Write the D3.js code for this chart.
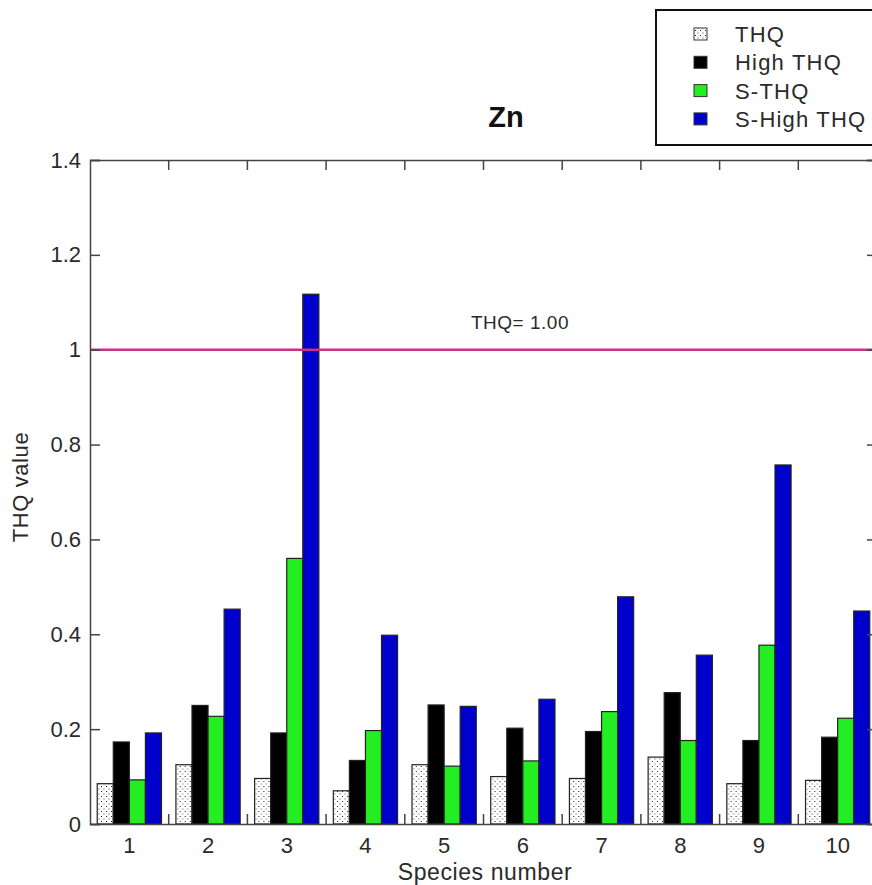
<!DOCTYPE html>
<html>
<head>
<meta charset="utf-8">
<script src="https://cdn.jsdelivr.net/npm/d3@7"></script>
<style>
  body { margin: 0; background: #fff; }
  svg text { font-family: "Liberation Sans", Arial, sans-serif; fill: #2a2a2a; }
</style>
</head>
<body>
<div id="vis"></div>
<script>
// values
var species = ["1", "2", "3", "4", "5", "6", "7", "8", "9", "10"];
var seriesNames = ["THQ", "High THQ", "S-THQ", "S-High THQ"];
var thq      = [0.085, 0.125, 0.096, 0.070, 0.125, 0.100, 0.096, 0.141, 0.085, 0.092];
var highThq  = [0.173, 0.250, 0.192, 0.134, 0.251, 0.202, 0.195, 0.277, 0.176, 0.183];
var sThq     = [0.093, 0.227, 0.560, 0.197, 0.122, 0.133, 0.237, 0.176, 0.377, 0.223];
var sHighThq = [0.192, 0.453, 1.117, 0.398, 0.248, 0.263, 0.479, 0.356, 0.757, 0.449];
var yTicks = [0, 0.2, 0.4, 0.6, 0.8, 1, 1.2, 1.4];
var refValue = 1.0;

var colors = ["url(#dots)", "#000000", "#22ee22", "#0000cc"];

var W = 872, H = 885;
var margin = {top: 160, right: -5, bottom: 61, left: 90};

var rows = species.map(function(s, i) {
  return {species: s, values: [thq[i], highThq[i], sThq[i], sHighThq[i]]};
});

var svg = d3.select("#vis").append("svg")
    .attr("width", W)
    .attr("height", H);

// dotted fill for the plain THQ bars
var pat = svg.append("defs").append("pattern")
    .attr("id", "dots")
    .attr("patternUnits", "userSpaceOnUse")
    .attr("width", 5).attr("height", 5);
pat.append("rect").attr("width", 5).attr("height", 5).attr("fill", "#fff");
pat.append("rect").attr("x", 1).attr("y", 1).attr("width", 1).attr("height", 1).attr("fill", "#222");
pat.append("rect").attr("x", 3.5).attr("y", 3.5).attr("width", 1).attr("height", 1).attr("fill", "#555");

var x0 = d3.scaleBand()
    .domain(species)
    .range([margin.left, W - margin.right])
    .padding(0);

var x1 = d3.scaleBand()
    .domain(d3.range(seriesNames.length))
    .range([0, x0.bandwidth()])
    .paddingInner(0)
    .paddingOuter(0.45);

var y = d3.scaleLinear()
    .domain([0, 1.4])
    .range([H - margin.bottom, margin.top]);

////////// bars //////////
var groups = svg.append("g").selectAll("g")
    .data(rows)
    .enter().append("g")
    .attr("transform", function(d) { return "translate(" + x0(d.species) + ",0)"; });

groups.selectAll("rect")
    .data(function(d) { return d.values; })
    .enter().append("rect")
    .attr("x", function(d, i) { return x1(i); })
    .attr("y", function(d) { return y(d); })
    .attr("width", x1.bandwidth())
    .attr("height", function(d) { return y(0) - y(d); })
    .attr("fill", function(d, i) { return colors[i]; })
    .attr("stroke", "#222")
    .attr("stroke-width", 1.2);

////////// reference line //////////
svg.append("line")
    .attr("x1", margin.left).attr("x2", W)
    .attr("y1", y(refValue)).attr("y2", y(refValue))
    .attr("stroke", "#c8308c")
    .attr("stroke-width", 2.5);

svg.append("text")
    .attr("x", 520)
    .attr("y", y(refValue) - 21)
    .attr("text-anchor", "middle")
    .style("font-size", "19px")
    .style("letter-spacing", "0.5px")
    .text("THQ= " + refValue.toFixed(2));

////////// axes //////////
var axisColor = "#444";

var leftAxis = svg.append("g")
    .attr("transform", "translate(" + margin.left + ",0)")
    .call(d3.axisLeft(y).tickValues(yTicks).tickSize(-10).tickPadding(9)
      .tickFormat(function(d) { return d3.format("")(d); }));
leftAxis.selectAll("text").style("font-size", "22px");

var rightAxis = svg.append("g")
    .attr("transform", "translate(" + (W - margin.right) + ",0)")
    .call(d3.axisRight(y).tickValues(yTicks).tickSize(-10).tickFormat(""));

var bottomAxis = svg.append("g")
    .attr("transform", "translate(0," + y(0) + ")")
    .call(d3.axisBottom(x0).tickSize(0).tickPadding(13));
bottomAxis.selectAll("text").style("font-size", "22px");

var topAxis = svg.append("g")
    .attr("transform", "translate(0," + margin.top + ")")
    .call(d3.axisTop(x0).tickSize(0).tickFormat(""));

[leftAxis, rightAxis, bottomAxis, topAxis].forEach(function(a) {
  a.select(".domain").attr("stroke", axisColor).attr("stroke-width", 1.5);
  a.selectAll(".tick line").attr("stroke", axisColor).attr("stroke-width", 1.5);
});

// small ticks between species groups (bottom pointing up, top pointing down)
var bounds = species.slice(1);
svg.append("g").selectAll("line")
    .data(bounds)
    .enter().append("line")
    .attr("x1", function(d) { return x0(d); })
    .attr("x2", function(d) { return x0(d); })
    .attr("y1", y(0)).attr("y2", y(0) - 10)
    .attr("stroke", axisColor).attr("stroke-width", 1.5);
svg.append("g").selectAll("line")
    .data(bounds)
    .enter().append("line")
    .attr("x1", function(d) { return x0(d); })
    .attr("x2", function(d) { return x0(d); })
    .attr("y1", margin.top).attr("y2", margin.top + 10)
    .attr("stroke", axisColor).attr("stroke-width", 1.5);

////////// labels //////////
svg.append("text")
    .attr("x", 506)
    .attr("y", 127)
    .attr("text-anchor", "middle")
    .style("font-size", "29px")
    .style("font-weight", "bold")
    .style("fill", "#111")
    .text("Zn");

svg.append("text")
    .attr("x", 485)
    .attr("y", 880)
    .attr("text-anchor", "middle")
    .style("font-size", "23px")
    .style("letter-spacing", "0.6px")
    .text("Species number");

svg.append("text")
    .attr("transform", "translate(28," + 487 + ") rotate(-90)")
    .attr("text-anchor", "middle")
    .style("font-size", "22px")
    .style("letter-spacing", "0.6px")
    .text("THQ value");

////////// legend //////////
var legend = svg.append("g");
legend.append("rect")
    .attr("x", 656).attr("y", 10)
    .attr("width", 230).attr("height", 135)
    .attr("fill", "#fff")
    .attr("stroke", "#111")
    .attr("stroke-width", 2);

var item = legend.selectAll("g.item")
    .data(seriesNames)
    .enter().append("g")
    .attr("class", "item")
    .attr("transform", function(d, i) { return "translate(694," + (34 + i * 28.3) + ")"; });

item.append("rect")
    .attr("x", 0).attr("y", -6)
    .attr("width", 13).attr("height", 12)
    .attr("fill", function(d, i) { return colors[i]; })
    .attr("stroke", "#333")
    .attr("stroke-width", 1);

item.append("text")
    .attr("x", 41)
    .attr("y", 8)
    .style("font-size", "22px")
    .style("letter-spacing", "1.2px")
    .text(function(d) { return d; });
</script>
</body>
</html>
